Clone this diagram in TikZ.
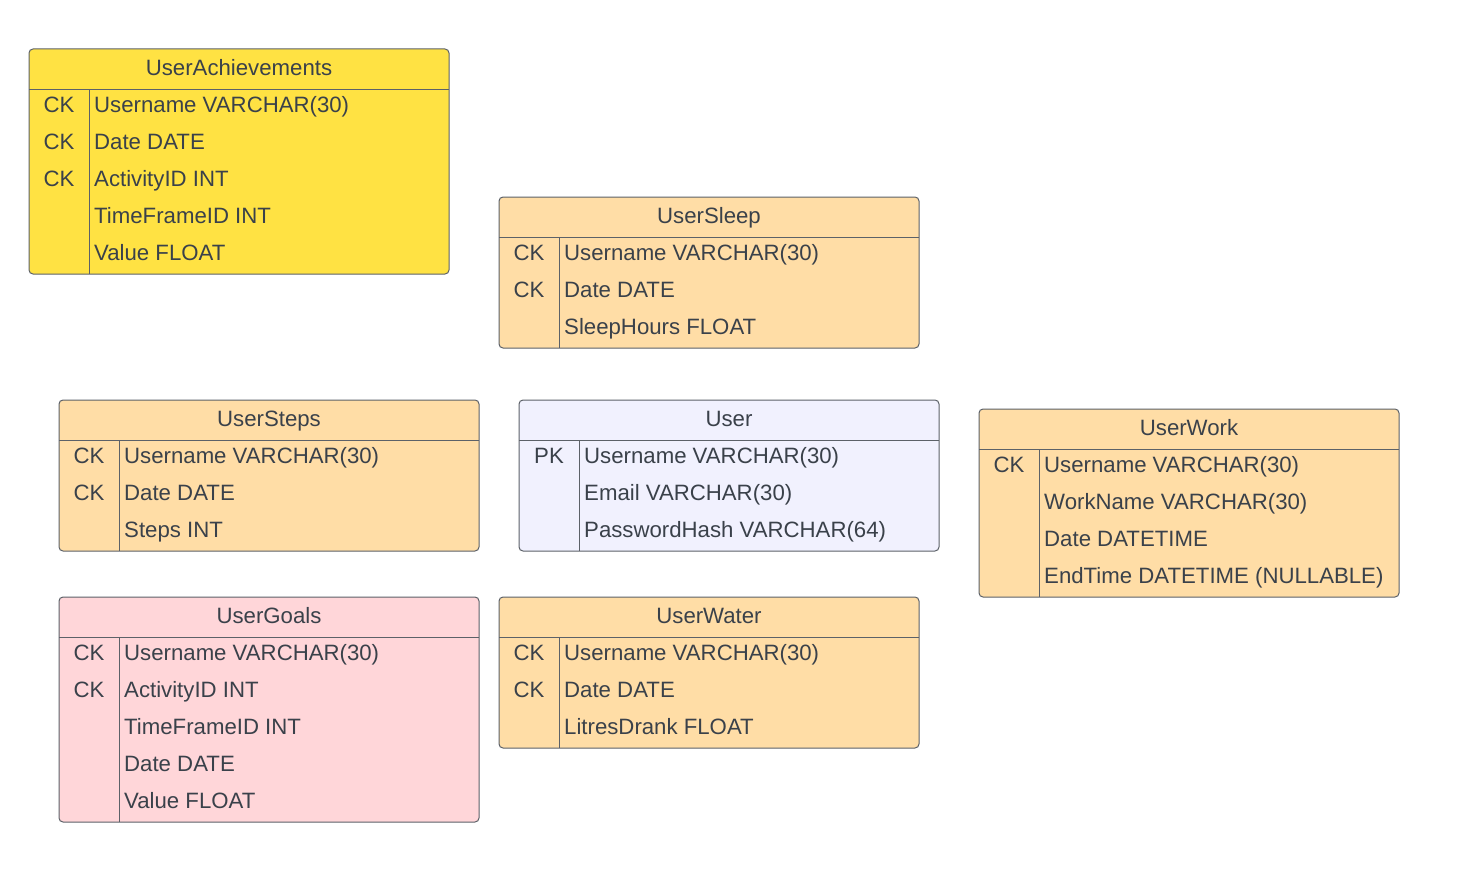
\documentclass[tikz,border=0pt]{standalone}
\usepackage{fontspec}
\setmainfont{Liberation Sans}
\definecolor{ink}{HTML}{3A414A}
\definecolor{edge}{HTML}{5C6168}
\definecolor{achieve}{HTML}{FFE243}
\definecolor{peach}{HTML}{FFDDA6}
\definecolor{rose}{HTML}{FFD6D9}
\definecolor{lav}{HTML}{F1F1FE}
\tikzset{
	tbl/.style={draw=edge, line width=1pt, rounded corners=4pt},
	sep/.style={draw=edge, line width=1pt},
	txt/.style={text=ink, inner sep=0pt, font=\fontsize{22.2}{26}\selectfont},
	ttl/.style={txt, anchor=base},
	key/.style={txt, anchor=base},
	fld/.style={txt, anchor=base west}
}
% name, left, top, fill, title, rows, key/field list
\newcommand{\ertable}[7]{%
	\draw[tbl, fill=#4] (#2,#3) rectangle ({#2+420},{#3+40+37*#6});
	\draw[sep] (#2,{#3+40}) -- ({#2+420},{#3+40});
	\draw[sep] ({#2+60},{#3+40}) -- ({#2+60},{#3+40+37*#6});
	\node[ttl] (#1-title) at ({#2+210},{#3+26.5}) {#5};
	\foreach \k/\f [count=\i] in {#7} {
		\node[key] (#1-k\i) at ({#2+30},{#3+26+37*\i}) {\k};
		\node[fld] (#1-f\i) at ({#2+65},{#3+26+37*\i}) {\f};
	}
}
\begin{document}
\begin{tikzpicture}[x=1pt, y=-1pt]
	\useasboundingbox (0,0) rectangle (1459,883);
	\ertable{ach}{29}{49}{achieve}{UserAchievements}{5}{CK/Username VARCHAR(30), CK/Date DATE, CK/ActivityID INT, {}/TimeFrameID INT, {}/Value FLOAT}
	\ertable{sleep}{499}{197}{peach}{UserSleep}{3}{CK/Username VARCHAR(30), CK/Date DATE, {}/SleepHours FLOAT}
	\ertable{steps}{59}{400}{peach}{UserSteps}{3}{CK/Username VARCHAR(30), CK/Date DATE, {}/Steps INT}
	\ertable{user}{519}{400}{lav}{User}{3}{PK/Username VARCHAR(30), {}/Email VARCHAR(30), {}/PasswordHash VARCHAR(64)}
	\ertable{work}{979}{409}{peach}{UserWork}{4}{CK/Username VARCHAR(30), {}/WorkName VARCHAR(30), {}/Date DATETIME, {}/EndTime DATETIME (NULLABLE)}
	\ertable{goals}{59}{597}{rose}{UserGoals}{5}{CK/Username VARCHAR(30), CK/ActivityID INT, {}/TimeFrameID INT, {}/Date DATE, {}/Value FLOAT}
	\ertable{water}{499}{597}{peach}{UserWater}{3}{CK/Username VARCHAR(30), CK/Date DATE, {}/LitresDrank FLOAT}
\end{tikzpicture}
\end{document}
